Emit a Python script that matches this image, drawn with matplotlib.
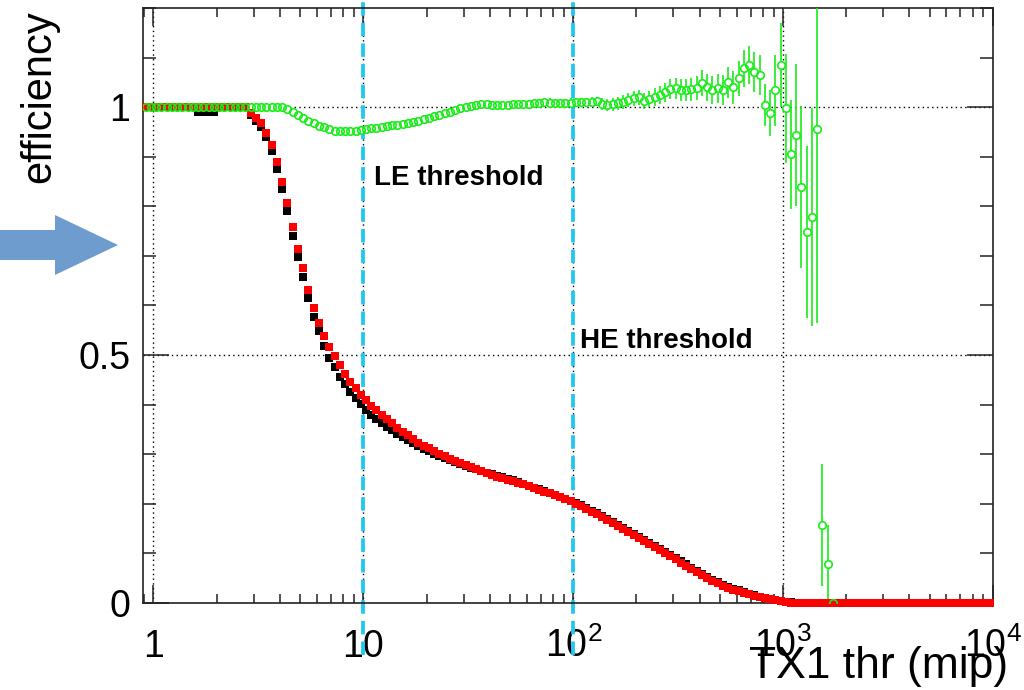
import numpy as np
import matplotlib
matplotlib.use('Agg')
import matplotlib.pyplot as plt
from matplotlib.patches import Polygon
from matplotlib.ticker import LogLocator, MultipleLocator, NullFormatter

plt.rcParams['font.family'] = ['Liberation Sans', 'DejaVu Sans']
plt.rcParams['mathtext.fontset'] = 'custom'
plt.rcParams['mathtext.rm'] = 'Liberation Sans'

# ---------------- data ----------------
# histogram binning: 40 log bins per decade, first edge two bins below 1
BIN_EXP_FIRST = -2
BIN_EXP_LAST = 160
BINS_PER_DECADE = 40

# efficiency (red squares), one value per bin
red = [1.0] * 20 + [
    0.988, 0.978, 0.968, 0.948, 0.923, 0.889, 0.849, 0.806, 0.758, 0.714,
    0.675, 0.631, 0.595, 0.565, 0.538, 0.516, 0.498, 0.480, 0.462, 0.446,
    0.433, 0.419, 0.409, 0.397, 0.389, 0.379, 0.371, 0.363, 0.353, 0.345,
    0.339, 0.331, 0.323, 0.317, 0.312, 0.306, 0.301, 0.296, 0.291, 0.286,
    0.282, 0.278, 0.274, 0.270, 0.266, 0.262, 0.258, 0.255, 0.252, 0.249,
    0.246, 0.243, 0.239, 0.235, 0.231, 0.227, 0.224, 0.221, 0.217, 0.213,
    0.209, 0.205, 0.200, 0.195, 0.190, 0.184, 0.179, 0.173, 0.167, 0.162,
    0.156, 0.150, 0.144, 0.138, 0.132, 0.125, 0.119, 0.113, 0.107, 0.101,
    0.095, 0.088, 0.081, 0.075, 0.068, 0.062, 0.056, 0.050, 0.044, 0.040,
    0.035, 0.031, 0.027, 0.024, 0.021, 0.018, 0.015, 0.012, 0.010, 0.008,
    0.006, 0.004, 0.002, 0.001] + [0.0] * 38

# efficiency (black squares)
black = [1.0] * 10 + [0.99, 0.99, 0.99, 0.99] + [1.0] * 6 + [
    0.985, 0.972, 0.960, 0.940, 0.912, 0.876, 0.834, 0.790, 0.740, 0.697,
    0.657, 0.615, 0.577, 0.548, 0.518, 0.494, 0.476, 0.456, 0.442, 0.425,
    0.413, 0.401, 0.389, 0.379, 0.371, 0.363, 0.355, 0.348, 0.341, 0.334,
    0.328, 0.322, 0.316, 0.311, 0.306, 0.301, 0.296, 0.292, 0.288, 0.284,
    0.280, 0.276, 0.273, 0.271, 0.267, 0.263, 0.260, 0.257, 0.254, 0.251,
    0.248, 0.244, 0.240, 0.236, 0.232, 0.229, 0.225, 0.222, 0.218, 0.214,
    0.210, 0.206, 0.201, 0.197, 0.192, 0.186, 0.181, 0.175, 0.169, 0.164,
    0.158, 0.152, 0.146, 0.140, 0.134, 0.127, 0.121, 0.115, 0.109, 0.103,
    0.097, 0.091, 0.084, 0.078, 0.071, 0.065, 0.059, 0.053, 0.047, 0.042,
    0.037, 0.033, 0.029, 0.026, 0.022, 0.019, 0.016, 0.013, 0.011, 0.009,
    0.007, 0.005, 0.003, 0.002, 0.001] + [0.0] * 37

# ratio (green open circles) with errors
green = [1.0] * 27 + [
    0.996, 0.990, 0.984, 0.978, 0.973, 0.968, 0.963, 0.959, 0.955, 0.952,
    0.951, 0.951, 0.951, 0.952, 0.953, 0.955, 0.957, 0.958, 0.960, 0.962,
    0.964, 0.965, 0.967, 0.969, 0.970, 0.973, 0.976, 0.979, 0.982, 0.985,
    0.988, 0.991, 0.995, 0.998, 1.001, 1.003, 1.004, 1.006, 1.006, 1.005,
    1.004, 1.004, 1.005, 1.006, 1.006, 1.006, 1.007, 1.008, 1.009, 1.010,
    1.009, 1.008, 1.008, 1.008, 1.009, 1.010, 1.010, 1.010, 1.011, 1.012,
    1.006, 1.004, 1.006, 1.008, 1.011, 1.014, 1.018, 1.020, 1.012, 1.016,
    1.020, 1.024, 1.030, 1.036, 1.038, 1.034, 1.034, 1.036, 1.038, 1.048,
    1.040, 1.034, 1.038, 1.034, 1.050, 1.040, 1.058, 1.078, 1.085, 1.071,
    1.065, 1.004, 0.988, 1.034, 1.085, 0.998, 0.905, 0.944, 0.839, 0.748,
    0.778, 0.955, 0.157, 0.079, 0.000]

green_err = [0.0] * 27 + [
    0.002, 0.002, 0.003, 0.003, 0.003, 0.003, 0.003, 0.003, 0.003, 0.003,
    0.004, 0.004, 0.004, 0.004, 0.004, 0.004, 0.004, 0.004, 0.004, 0.004,
    0.005, 0.005, 0.005, 0.005, 0.005, 0.005, 0.005, 0.005, 0.005, 0.005,
    0.006, 0.006, 0.006, 0.006, 0.006, 0.006, 0.006, 0.006, 0.006, 0.006,
    0.007, 0.007, 0.007, 0.007, 0.007, 0.007, 0.007, 0.007, 0.007, 0.007,
    0.009, 0.009, 0.009, 0.009, 0.009, 0.009, 0.009, 0.009, 0.009, 0.009,
    0.012, 0.012, 0.013, 0.013, 0.014, 0.014, 0.015, 0.015, 0.016, 0.016,
    0.018, 0.018, 0.019, 0.020, 0.021, 0.022, 0.022, 0.023, 0.024, 0.026,
    0.027, 0.028, 0.029, 0.030, 0.032, 0.033, 0.035, 0.037, 0.039, 0.040,
    0.041, 0.042, 0.047, 0.072, 0.085, 0.110, 0.110, 0.143, 0.163, 0.174,
    0.220, 0.390, 0.123, 0.079, 0.0]

x_major = [1, 10, 100, 1000, 10000]
x_labels = ['1', '10', r'$\mathregular{10^{2}}$', r'$\mathregular{10^{3}}$',
            r'$\mathregular{10^{4}}$']
y_major = [0, 0.5, 1.0]
y_labels = ['0', '0.5', '1']
thresholds = [10, 100]
threshold_labels = ['LE threshold', 'HE threshold']
threshold_label_pos = [(11.2, 0.843), (108, 0.514)]

# ---------------- figure ----------------
W, H = 1024, 690
fig = plt.figure(figsize=(W / 100, H / 100), dpi=100)
ax = fig.add_axes([143 / W, 1 - 603 / H, 850 / W, 595 / H])

edges = 10.0 ** (np.arange(BIN_EXP_FIRST, BIN_EXP_LAST + 1) / BINS_PER_DECADE)
centers = np.sqrt(edges[:-1] * edges[1:])

ax.set_xscale('log')
ax.set_xlim(edges[0], 1e4)
ax.set_ylim(0, 1.2)

# dotted grid at major ticks
grid_style = dict(color='black', lw=1.0, ls=(0, (1.0, 2.4)), zorder=1)
for xv in x_major[:-1]:
    ax.axvline(xv, **grid_style)
for yv in y_major[1:]:
    ax.axhline(yv, **grid_style)

# threshold lines (extend past the frame)
for xv in thresholds:
    ax.axvline(xv, ymin=-0.088, ymax=1.014, clip_on=False, color='#1ec8f0',
               lw=2.7, ls=(0, (3.6, 1.9)), zorder=2)

GREEN = '#18ec18'
ax.plot(centers[:len(black)], black, 's', color='black', ms=5.2, mew=0,
        clip_on=False, zorder=3)

ng = len(green)
gx = centers[:ng]
xerr = [gx - edges[:ng], edges[1:ng + 1] - gx]
ax.errorbar(gx, green, yerr=green_err, xerr=xerr, fmt='none',
            ecolor=GREEN, elinewidth=1.2, capsize=0, zorder=3.5)
# white disc under each circle hides the bar inside the marker
ax.plot(gx, green, 'o', ms=5.4, mfc='white', mec='none', zorder=3.6)

ax.plot(centers[:len(red)], red, 's', color='#ff0000', ms=5.2, mew=0,
        clip_on=False, zorder=5)

# open circle outlines on top
ax.plot(gx, green, 'o', ms=5.4, mfc='none', mec=GREEN, mew=1.2, zorder=6)

for (tx, ty), lab in zip(threshold_label_pos, threshold_labels):
    ax.text(tx, ty, lab, fontsize=20, fontweight='bold', ha='left',
            va='baseline', color='black', zorder=7)

# ticks
ax.set_xticks(x_major)
ax.set_xticklabels(x_labels)
ax.xaxis.set_minor_locator(LogLocator(base=10, subs=np.arange(2, 10)))
ax.xaxis.set_minor_formatter(NullFormatter())
ax.set_yticks(y_major)
ax.set_yticklabels(y_labels)
ax.yaxis.set_minor_locator(MultipleLocator(0.1))

ax.tick_params(axis='both', which='both', direction='in', top=True,
               right=True, color='#222222', width=1.1)
ax.tick_params(axis='x', which='major', length=13, pad=39, labelsize=27)
ax.tick_params(axis='x', which='minor', length=6.5)
ax.tick_params(axis='y', which='major', length=19, pad=9, labelsize=27)
ax.tick_params(axis='y', which='minor', length=9.5)
for lab in ax.get_xticklabels():
    lab.set_verticalalignment('baseline')

for sp in ax.spines.values():
    sp.set_linewidth(1.2)
    sp.set_color('#222222')

# axis titles (ROOT style placement)
fig.text(39 / W, 1 - 97 / H, 'efficiency', rotation=90, fontsize=30,
         ha='center', va='center')
fig.text(1008 / W, 1 - 678 / H, 'TX1 thr (mip)', fontsize=32, ha='right',
         va='baseline')

# blue arrow on the left
arrow_px = [(0, 230), (55, 230), (55, 215), (118, 245), (55, 275), (55, 260),
            (0, 260)]
fig.add_artist(Polygon([(px / W, 1 - py / H) for px, py in arrow_px],
                       closed=True, transform=fig.transFigure,
                       facecolor='#6f9ccf', edgecolor='none'))

fig.savefig('out.png', dpi=100)
